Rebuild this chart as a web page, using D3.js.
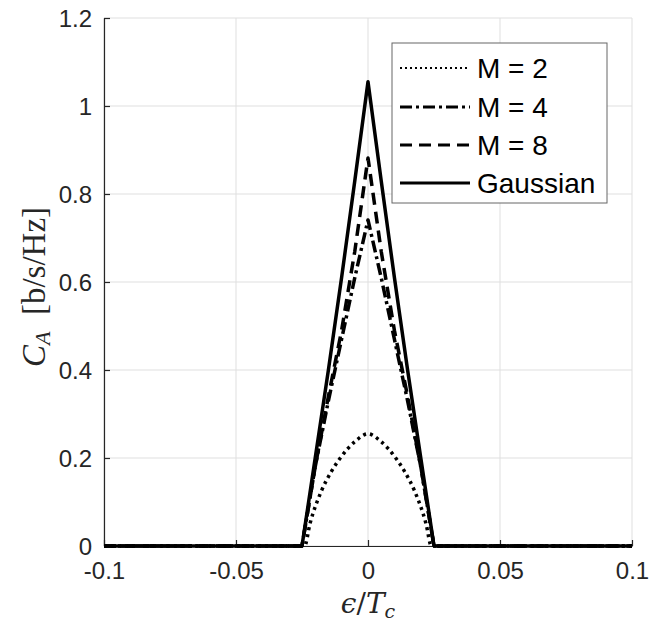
<!DOCTYPE html>
<html><head><meta charset="utf-8">
<script src="https://cdn.jsdelivr.net/npm/d3@7"></script>
<style>body{margin:0;background:#fff}svg{display:block}</style>
</head><body>
<svg id="c" width="655" height="624"></svg>
<script>
const xTicks = [-0.1, -0.05, 0, 0.05, 0.1];
const xTickLabels = ["-0.1", "-0.05", "0", "0.05", "0.1"];
const yTicks = [0, 0.2, 0.4, 0.6, 0.8, 1, 1.2];
const yTickLabels = ["0", "0.2", "0.4", "0.6", "0.8", "1", "1.2"];
const seriesNames = ["M = 2", "M = 4", "M = 8", "Gaussian"];

const xM2 = [-0.1, -0.024, -0.022, -0.0175, -0.014, -0.0105, -0.005, 0, 0.005, 0.0105, 0.014, 0.0175, 0.022, 0.024, 0.1];
const yM2 = [0, 0, 0.05, 0.127, 0.168, 0.2, 0.237, 0.255, 0.237, 0.2, 0.168, 0.127, 0.05, 0, 0];
const xM4 = [-0.1, -0.025, -0.02, -0.015, -0.01, -0.005, 0, 0.005, 0.01, 0.015, 0.02, 0.025, 0.1];
const yM4 = [0, 0, 0.18, 0.33, 0.47, 0.61, 0.741, 0.61, 0.47, 0.33, 0.18, 0, 0];
const xM8 = [-0.1, -0.025, -0.02, -0.015, -0.01, -0.005, 0, 0.005, 0.01, 0.015, 0.02, 0.025, 0.1];
const yM8 = [0, 0, 0.18, 0.34, 0.49, 0.67, 0.882, 0.67, 0.49, 0.34, 0.18, 0, 0];
const xGauss = [-0.1, -0.025, -0.02, -0.015, -0.01, -0.005, 0, 0.005, 0.01, 0.015, 0.02, 0.025, 0.1];
const yGauss = [0, 0, 0.2, 0.40, 0.61, 0.83, 1.055, 0.83, 0.61, 0.40, 0.2, 0, 0];

const svg = d3.select("#c");
const L = 104, R = 632, T = 18, B = 546;
const x = d3.scaleLinear().domain([-0.1, 0.1]).range([L, R]);
const y = d3.scaleLinear().domain([0, 1.2]).range([B, T]);
const axisColor = "#262626";
const tickFont = "Liberation Sans, Arial, sans-serif";

// grid
const g = svg.append("g");
g.selectAll(".gx").data(xTicks).enter().append("line")
  .attr("x1", d => x(d)).attr("x2", d => x(d)).attr("y1", T).attr("y2", B)
  .attr("stroke", "#dfdfdf").attr("stroke-width", 1);
g.selectAll(".gy").data(yTicks).enter().append("line")
  .attr("x1", L).attr("x2", R).attr("y1", d => y(d)).attr("y2", d => y(d))
  .attr("stroke", "#dfdfdf").attr("stroke-width", 1);

// axes
const xAxis = d3.axisBottom(x).tickValues(xTicks).tickFormat((d, i) => xTickLabels[i]).tickSizeInner(-6).tickSizeOuter(0).tickPadding(16);
const yAxis = d3.axisLeft(y).tickValues(yTicks).tickFormat((d, i) => yTickLabels[i]).tickSizeInner(-6).tickSizeOuter(0).tickPadding(12);
const gx = svg.append("g").attr("transform", `translate(0,${B})`).call(xAxis);
const gy = svg.append("g").attr("transform", `translate(${L},0)`).call(yAxis);
[gx, gy].forEach(a => {
  a.select(".domain").attr("stroke", axisColor).attr("stroke-width", 1.2);
  a.selectAll(".tick line").attr("stroke", axisColor).attr("stroke-width", 1.2);
  a.selectAll(".tick text").attr("fill", axisColor).attr("font-family", tickFont).attr("font-size", 24);
});
gx.selectAll(".tick text").attr("dy", "0.71em");
gy.selectAll(".tick text").attr("dy", "0.36em");

// lines
const series = [
  {xs: xM2, ys: yM2, dash: "3,4", curve: d3.curveMonotoneX},
  {xs: xM4, ys: yM4, dash: "12,4,3,4", curve: d3.curveLinear},
  {xs: xM8, ys: yM8, dash: "12,7", curve: d3.curveLinear},
  {xs: xGauss, ys: yGauss, dash: null, curve: d3.curveLinear}
];
series.forEach(s => {
  const pts = s.xs.map((v, i) => [v, s.ys[i]]);
  const line = d3.line().x(d => x(d[0])).y(d => y(d[1])).curve(s.curve);
  svg.append("path").datum(pts).attr("d", line)
    .attr("fill", "none").attr("stroke", "#000").attr("stroke-width", 3.5)
    .attr("stroke-linejoin", "round")
    .attr("stroke-dasharray", s.dash);
});

// legend
const lg = svg.append("g");
lg.append("rect").attr("x", 392).attr("y", 43).attr("width", 215).attr("height", 160)
  .attr("fill", "#fff").attr("stroke", "#666").attr("stroke-width", 1);
const rowY = [68, 107, 145, 183];
seriesNames.forEach((name, i) => {
  lg.append("line").attr("x1", 400).attr("x2", 470).attr("y1", rowY[i]).attr("y2", rowY[i])
    .attr("stroke", "#000").attr("stroke-width", i === 0 ? 2 : 3)
    .attr("stroke-dasharray", i === 0 ? "2,3" : series[i].dash);
  lg.append("text").attr("x", 477).attr("y", rowY[i]).attr("dy", "0.36em")
    .attr("font-family", tickFont).attr("font-size", 28).attr("fill", "#000").text(name);
});

// axis labels
const xl = svg.append("text").attr("x", 368).attr("y", 613).attr("text-anchor", "middle")
  .attr("font-family", "DejaVu Serif, Liberation Serif, serif").attr("font-size", 28).attr("fill", "#262626");
xl.append("tspan").attr("font-style", "italic").text("ϵ");
xl.append("tspan").text("/");
xl.append("tspan").attr("font-style", "italic").text("T");
xl.append("tspan").attr("font-style", "italic").attr("font-size", 19).attr("dy", 5).text("c");

const yl = svg.append("text").attr("transform", "translate(45,287) rotate(-90)").attr("text-anchor", "middle")
  .attr("font-family", "Liberation Serif, DejaVu Serif, serif").attr("font-size", 33).attr("fill", "#262626");
yl.append("tspan").attr("font-style", "italic").text("C");
yl.append("tspan").attr("font-style", "italic").attr("font-size", 22).attr("dy", 5).text("A");
yl.append("tspan").attr("dy", -5).text("\u2002[b/s/Hz]");
</script>
</body></html>
